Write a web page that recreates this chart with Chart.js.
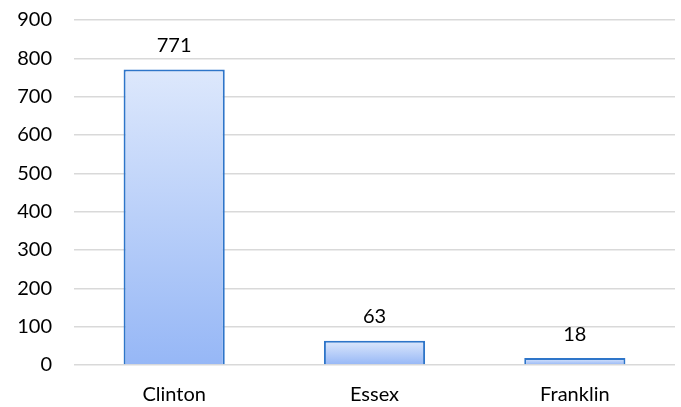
<!DOCTYPE html>
<html>
<head>
<meta charset="utf-8">
<script src="https://cdn.jsdelivr.net/npm/chart.js@4.4.1/dist/chart.umd.min.js"></script>
<style>
  html, body { margin: 0; padding: 0; background: #fff; }
  #wrap { width: 681px; height: 407px; }
</style>
</head>
<body>
<div id="wrap"><canvas id="myChart"></canvas></div>
<script>
// counties and their totals
const counties = ["Clinton", "Essex", "Franklin"];
const totals = [771, 63, 18];
const yTicks = [0, 100, 200, 300, 400, 500, 600, 700, 800, 900];

const fontFamily = "Lato, 'Open Sans', sans-serif";
const fontSize = 20;

// vertical gradient per bar, light at the top, deeper blue at the base
function barGradient(ctx) {
  const chart = ctx.chart;
  const y = chart.scales.y;
  if (!y || ctx.parsed === undefined || !chart.chartArea) return "#b9cff8";
  const top = y.getPixelForValue(ctx.parsed.y);
  const bottom = y.getPixelForValue(0);
  if (!isFinite(top) || !isFinite(bottom) || top === bottom) return "#b9cff8";
  const g = chart.ctx.createLinearGradient(0, top, 0, bottom);
  g.addColorStop(0, "#dde8fc");
  g.addColorStop(1, "#96b7f6");
  return g;
}

// draw the value above each bar
const valueLabels = {
  id: "valueLabels",
  afterDatasetsDraw(chart) {
    const c = chart.ctx;
    const meta = chart.getDatasetMeta(0);
    c.save();
    c.font = fontSize + "px " + fontFamily;
    c.fillStyle = "#000";
    c.textAlign = "center";
    c.textBaseline = "bottom";
    meta.data.forEach((bar, i) => {
      c.fillText(String(totals[i]), bar.x, bar.y - 14);
    });
    c.restore();
  }
};

new Chart(document.getElementById("myChart"), {
  type: "bar",
  data: {
    labels: counties,
    datasets: [{
      data: totals,
      backgroundColor: barGradient,
      borderColor: "#2e75c9",
      borderWidth: 2,
      borderSkipped: "bottom",
      barPercentage: 0.505,
      categoryPercentage: 1
    }]
  },
  options: {
    responsive: true,
    maintainAspectRatio: false,
    animation: false,
    layout: { padding: { top: 20, right: 6, left: 0, bottom: -18 } },
    plugins: {
      legend: { display: false },
      tooltip: { enabled: false }
    },
    scales: {
      x: {
        grid: { display: false, drawTicks: false },
        border: { display: false },
        ticks: { color: "#000", font: { size: fontSize, family: fontFamily }, padding: 18 }
      },
      y: {
        min: 0,
        max: 900,
        afterBuildTicks: (scale) => { scale.ticks = yTicks.map(v => ({ value: v })); },
        afterFit: (scale) => {
          scale.width = 74;
          scale.paddingTop = 0;
          scale.paddingBottom = 0;
        },
        grid: { color: "#d9d9d9", lineWidth: 1.5, drawTicks: false },
        border: { display: false },
        ticks: { color: "#000", font: { size: fontSize, family: fontFamily }, padding: 22 }
      }
    }
  },
  plugins: [valueLabels]
});
</script>
</body>
</html>
